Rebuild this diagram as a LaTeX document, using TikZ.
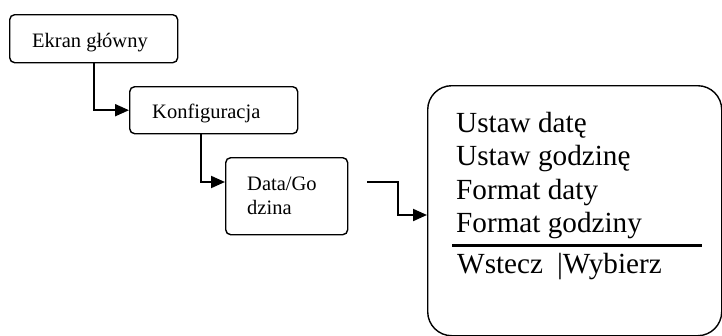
\documentclass[tikz,border=0pt]{standalone}
\usepackage{fontspec}
\setmainfont{Liberation Serif}
\usetikzlibrary{arrows.meta}
\begin{document}
\begin{tikzpicture}[x=1pt,y=-1pt,
  menubox/.style={draw,line width=1.4pt,rounded corners=5pt,inner sep=0pt,anchor=north west},
  smalltext/.style={font=\fontsize{20.5}{23}\selectfont,inner sep=0pt,anchor=base west},
  bigtext/.style={font=\fontsize{29.2}{33}\selectfont,inner sep=0pt,anchor=base west},
  conn/.style={line width=2pt,-{Triangle[length=14pt,width=12pt]}}]
\useasboundingbox (0,0) rectangle (722,335);

% menu boxes
\node[menubox,minimum width=168pt,minimum height=48pt] (b1) at (9,14) {};
\node[menubox,minimum width=168pt,minimum height=47pt] (b2) at (129,86) {};
\node[menubox,minimum width=122pt,minimum height=77pt] (b3) at (225,157) {};
\node[menubox,rounded corners=24pt,minimum width=294pt,minimum height=250pt] (screen) at (427,85) {};

% labels
\node[smalltext] (t1) at (32,47) {Ekran główny};
\node[smalltext] (t2) at (152,118) {Konfiguracja};
\node[smalltext] (t3a) at (247,190) {Data/Go};
\node[smalltext] (t3b) at (247,214) {dzina};

\node[bigtext] (m1) at (456,132) {Ustaw datę};
\node[bigtext] (m2) at (456,165.5) {Ustaw godzinę};
\node[bigtext] (m3) at (456,199) {Format daty};
\node[bigtext] (m4) at (456,232.5) {Format godziny};
\node[bigtext] (m5) at (457,273) {Wstecz\hspace{14pt}|Wybierz};

% separator above the soft-key line
\coordinate (sepL) at (452,245);
\coordinate (sepR) at (702,245);
\draw[line width=3pt] (sepL) -- (sepR);

% connectors
\draw[conn] (b1.south) |- (b2.west);
\draw[conn] ([xshift=-13pt]b2.south) |- (b3.west |- 0,182);
\coordinate (free) at (367,182);
\coordinate (bend) at (398,182);
\draw[conn] (free) -- (bend) |- (screen.west |- 0,215);
\end{tikzpicture}
\end{document}
